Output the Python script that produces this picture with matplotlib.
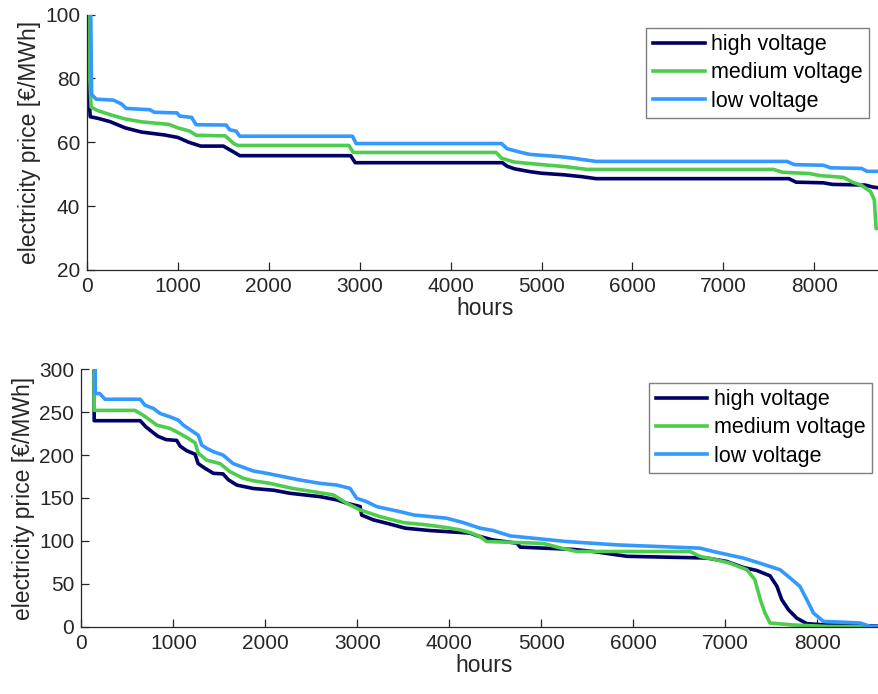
import matplotlib
matplotlib.use("Agg")
import matplotlib.pyplot as plt

plt.rcParams['font.family'] = ['Liberation Sans', 'DejaVu Sans']

labels = ["high voltage", "medium voltage", "low voltage"]
colors = ["#000066", "#4dcc4d", "#3399ff"]

# top panel: price duration curves, day-ahead level (€/MWh)
top_hv_h = [0, 10, 20, 35, 120, 250, 420, 600, 850, 1000, 1120, 1250, 1500, 1640, 1680, 2900, 2950,
            4570, 4620, 4700, 4870, 5000, 5250, 5450, 5600, 7720, 7800, 8100, 8200, 8560, 8640, 8760]
top_hv_p = [97, 90, 75, 68, 67.5, 66.5, 64.5, 63.2, 62.3, 61.5, 60, 58.8, 58.8, 56.5, 55.8, 55.8, 53.6,
            53.6, 52.5, 51.7, 50.8, 50.3, 49.8, 49.2, 48.6, 48.6, 47.5, 47.3, 46.8, 46.6, 46, 45.5]

top_mv_h = [0, 15, 30, 45, 110, 270, 420, 600, 900, 1000, 1130, 1200, 1520, 1620, 1660, 2880, 2930,
            4500, 4560, 4700, 5000, 5250, 5500, 7550, 7650, 7950, 8050, 8320, 8420, 8520, 8620, 8660, 8680, 8760]
top_mv_p = [102, 95, 80, 71, 70, 68.5, 67.3, 66.4, 65.6, 64.5, 63.5, 62.2, 62, 59.5, 59, 59, 56.8,
            56.8, 55, 53.8, 53, 52.4, 51.5, 51.5, 50.6, 50.2, 49.6, 49, 47.5, 46.5, 44.5, 42, 33, 33]

top_lv_h = [0, 40, 50, 100, 290, 380, 430, 690, 740, 990, 1020, 1150, 1200, 1530, 1570, 1640, 1680, 2920, 2960,
            4560, 4620, 4750, 4870, 5200, 5350, 5600, 7700, 7780, 8100, 8180, 8520, 8580, 8760]
top_lv_p = [110, 105, 75, 73.5, 73.2, 72, 70.6, 70.2, 69.4, 69.2, 68.2, 67.8, 65.5, 65.4, 63.9, 63.5, 61.9, 61.9, 59.6,
            59.6, 58, 57, 56.2, 55.5, 55, 54, 54, 53, 52.8, 52, 51.8, 50.9, 50.9]

# bottom panel: price duration curves, high price scenario (€/MWh)
bot_hv_h = [0, 138, 140, 640, 700, 770, 830, 920, 1037, 1073, 1145, 1236, 1270, 1345, 1435, 1540, 1600, 1690,
            1870, 2090, 2270, 2595, 2780, 2885, 3030, 3047, 3175, 3320, 3520, 3790, 3970, 4225, 4300, 4475,
            4735, 4770, 5350, 5565, 5930, 6800, 7015, 7195, 7340, 7485, 7560, 7613, 7685, 7775, 7885, 8100,
            8355, 8760]
bot_hv_p = [400, 400, 240, 240, 233, 227, 222, 218, 217, 210.5, 205, 201, 190, 184.5, 178.7, 178, 171, 165,
            161, 159, 155.4, 151.5, 147.7, 143.8, 140, 130, 124.4, 120.5, 114.8, 112, 110.8, 109, 106, 101,
            97.3, 92.7, 90, 87.6, 82, 80, 76, 69, 65.5, 59.3, 47, 31.4, 19.8, 10, 3.5, 2,
            1.5, 0.5]

bot_mv_h = [0, 138, 140, 583, 670, 747, 820, 964, 1037, 1145, 1236, 1272, 1363, 1508, 1616, 1760, 1870, 2050,
            2300, 2520, 2740, 2885, 3030, 3245, 3500, 3755, 3970, 4116, 4225, 4333, 4405, 4900, 5020, 5200,
            5385, 6615, 6725, 6870, 7050, 7235, 7320, 7380, 7430, 7485, 7735, 8100, 8760]
bot_mv_p = [400, 400, 252, 252, 246.5, 240.7, 234.9, 231, 227, 220.5, 214.3, 202, 194, 190, 180.6, 172.9, 170, 167,
            161, 157.3, 153.5, 143.8, 136, 128.3, 121.3, 118.6, 115.5, 112.8, 109.7, 105, 99.2, 97.5, 97, 92,
            87.6, 87.6, 81.8, 78.7, 74, 66.3, 54.7, 31.4, 15.9, 4.3, 2, 0.3, 0]

bot_lv_h = [0, 150, 152, 200, 258, 640, 692, 783, 855, 964, 1054, 1108, 1217, 1272, 1308, 1363, 1435, 1540,
            1650, 1760, 1870, 2015, 2195, 2377, 2595, 2776, 2920, 2993, 3100, 3210, 3465, 3610, 3970, 4150,
            4333, 4478, 4660, 5275, 5820, 6725, 6870, 7195, 7375, 7595, 7705, 7810, 7885, 7957, 8065, 8465,
            8575, 8760]
bot_lv_p = [400, 400, 271.7, 271.7, 265, 265, 258, 254.3, 248.5, 244.5, 240.7, 234.9, 227, 223, 211.6, 207.8, 203.9, 200,
            190, 185.7, 181.4, 178.7, 174.8, 170.9, 167, 165, 161.2, 149.6, 145.7, 139.9, 134, 130.2, 126.4, 121.3,
            114.8, 112, 105.8, 99.2, 95.3, 91.5, 87.6, 79.9, 74, 66.3, 56.6, 46.9, 31.4, 15.9, 6.2, 4.3,
            0.3, 0.3]

fig = plt.figure(figsize=(8.79, 6.94), dpi=100)
ax1 = fig.add_axes([0.099, 0.611, 0.906, 0.368])
ax2 = fig.add_axes([0.0925, 0.097, 0.917, 0.371])

tc = "#262626"
for ax, data, ylim, yticks, anchor in [
        (ax1, [(top_hv_h, top_hv_p), (top_mv_h, top_mv_p), (top_lv_h, top_lv_p)], (20, 100),
         [20, 40, 60, 80, 100], (0.982, 0.948)),
        (ax2, [(bot_hv_h, bot_hv_p), (bot_mv_h, bot_mv_p), (bot_lv_h, bot_lv_p)], (0, 300),
         [0, 50, 100, 150, 200, 250, 300], (0.981, 0.947))]:
    for (h, p), lab, col in zip(data, labels, colors):
        ax.plot(h, p, color=col, lw=2.6, label=lab)
    ax.set_xlim(0, 8760)
    ax.set_ylim(*ylim)
    ax.set_yticks(yticks)
    ax.set_xticks(range(0, 9000, 1000))
    ax.spines['top'].set_visible(False)
    ax.spines['right'].set_visible(False)
    for s in ['left', 'bottom']:
        ax.spines[s].set_color(tc)
        ax.spines[s].set_linewidth(0.9)
    ax.tick_params(direction='in', length=6, width=0.9, colors=tc, labelsize=15, pad=5)
    ax.set_xlabel("hours", fontsize=16.5, color=tc, labelpad=1)
    ax.set_ylabel("electricity price [€/MWh]", fontsize=16.5, color=tc, labelpad=3)
    leg = ax.legend(loc='upper right', bbox_to_anchor=anchor, fontsize=15.5, fancybox=False,
                    edgecolor="#7f7f7f", framealpha=1, handlelength=2.4, handletextpad=0.3,
                    labelspacing=0.33, borderpad=0.3, borderaxespad=0)
    leg.get_frame().set_linewidth(1.0)

fig.savefig("out.png", dpi=100)
